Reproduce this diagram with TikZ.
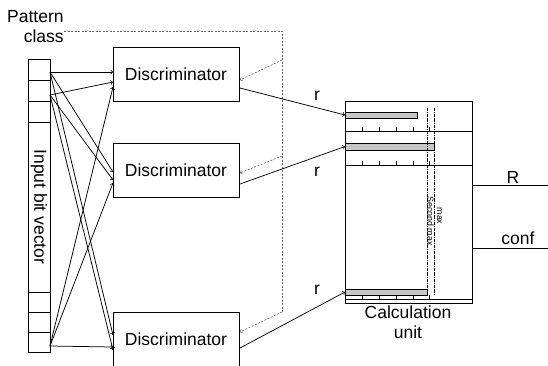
\documentclass[tikz,border=0pt]{standalone}
\usepackage{fontspec}
\setmainfont{Liberation Sans}
\begin{document}
\begin{tikzpicture}[x=1pt,y=-1pt,line width=0.75pt]

    \tikzset{discstyle/.style={draw,minimum width=126pt,minimum height=54pt,font=\fontsize{17.5}{20}\selectfont}}
    \tikzset{cellstyle/.style={draw,minimum width=22pt,inner sep=0pt}}
    \tikzset{labelstyle/.style={inner sep=0pt,font=\fontsize{17.5}{20}\selectfont}}
    \tikzset{smalllabel/.style={inner sep=0pt,font=\fontsize{8.8}{10}\selectfont}}
    \tikzset{feedback/.style={draw=black!60,line width=0.65pt,dash pattern=on 2pt off 1.5pt}}
    \tikzset{barstyle/.style={draw,fill=gray!45,inner sep=0pt,anchor=west}}
    \tikzset{maxline/.style={line width=0.6pt,dash pattern=on 3pt off 1pt on 0.7pt off 1pt}}

    \useasboundingbox (0,0) rectangle (548,365);
    \clip (0,0) rectangle (548,365);

    % input bit vector
    \node[cellstyle,minimum height=21pt] (b1) at (39,69.5) {};
    \node[cellstyle,minimum height=21pt] (b2) at (39,90.5) {};
    \node[cellstyle,minimum height=21pt] (b3) at (39,111.5) {};
    \node[cellstyle,minimum height=170pt] (bm) at (39,207) {};
    \node[cellstyle,minimum height=20pt] (b4) at (39,302) {};
    \node[cellstyle,minimum height=20pt] (b5) at (39,322) {};
    \node[cellstyle,minimum height=20pt] (b6) at (39,342) {};
    \node[labelstyle,rotate=-90] (ibv) at (bm) {Input bit vector};

    \node[labelstyle,align=right,anchor=east] (pc) at (64,27) {Pattern\\class};

    % discriminators
    \node[discstyle] (d1) at (176,74) {Discriminator};
    \node[discstyle] (d2) at (176,170.5) {Discriminator};
    \node[discstyle] (d3) at (176,339) {Discriminator};

    \coordinate (s1) at (50,72);
    \coordinate (s2) at (50,95);
    \coordinate (s3) at (50,346);
    \coordinate (i11) at (113,72);
    \coordinate (i12) at (113,82);
    \coordinate (i13) at (113,87);
    \coordinate (i21) at (113,172);
    \coordinate (i22) at (113,180);
    \coordinate (i23) at (113,183);
    \coordinate (i31) at (113,335);
    \coordinate (i32) at (113,350);
    \coordinate (i33) at (113,347);

    \begin{scope}[every path/.style={->}]
        \draw (s1) -- (i11);
        \draw (s2) -- (i12);
        \draw (s3) -- (i13);
        \draw (s1) -- (i21);
        \draw (s2) -- (i22);
        \draw (s3) -- (i23);
        \draw (s1) -- (i31);
        \draw (s2) -- (i32);
        \draw (s3) -- (i33);
    \end{scope}

    % feedback of the pattern class
    \coordinate (p0) at (64,31);
    \coordinate (fb) at (282,31);
    \coordinate (f1) at (282,60);
    \coordinate (f2) at (282,156);
    \coordinate (f3) at (282,312);
    \coordinate (t1) at (240,80);
    \coordinate (t2) at (240,173);
    \coordinate (t3) at (240,332);
    \draw[feedback] (p0) -- (fb) -- (f3);
    \draw[feedback,->] (f1) -- (t1);
    \draw[feedback,->] (f2) -- (t2);
    \draw[feedback,->] (f3) -- (t3);

    % calculation unit
    \node[draw,minimum width=127pt,minimum height=202pt,inner sep=0pt] (cu) at (408.5,202) {};
    \draw (345,131) -- (472,131);
    \draw (345,165) -- (472,165);
    \draw (345,299) -- (472,299);
    \draw (362,131) -- (362,127) (379,131) -- (379,127) (396,131) -- (396,127) (413,131) -- (413,127) (429,131) -- (429,127);
    \draw (362,165) -- (362,161) (379,165) -- (379,161) (396,165) -- (396,161) (413,165) -- (413,161) (429,165) -- (429,161);
    \draw (362,299) -- (362,295) (379,299) -- (379,295) (396,299) -- (396,295) (413,299) -- (413,295) (429,299) -- (429,295);

    \node[barstyle,minimum width=72pt,minimum height=6pt] (bar1) at (345,115) {};
    \node[barstyle,minimum width=89pt,minimum height=7pt] (bar2) at (345,146.5) {};
    \node[barstyle,minimum width=82pt,minimum height=6pt] (bar3) at (345,292) {};

    \draw[maxline] (427,108) -- (427,289);
    \draw[maxline] (434,108) -- (434,295);
    \node[smalllabel,rotate=-90] (smax) at (430.5,221) {Second max};
    \node[smalllabel,rotate=-90] (mx) at (439.5,216) {max};

    \node[labelstyle,align=center] (cl) at (408,322) {Calculation\\unit};

    \coordinate (o1) at (240,88);
    \coordinate (o2) at (240,184);
    \coordinate (o3) at (240,348);
    \draw[->] (o1) -- (bar1.west);
    \draw[->] (o2) -- (bar2.west);
    \draw[->] (o3) -- (bar3.west);
    \node[labelstyle] (r1) at (317,96) {r};
    \node[labelstyle] (r2) at (317,172) {r};
    \node[labelstyle] (r3) at (317,290) {r};

    % outputs
    \coordinate (rout) at (548,185);
    \coordinate (cout) at (548,248);
    \draw (cu.east |- rout) -- (rout);
    \draw (cu.east |- cout) -- (cout);
    \node[labelstyle] (rl) at (513,177) {R};
    \node[labelstyle] (conf) at (518,238) {conf};

\end{tikzpicture}
\end{document}
